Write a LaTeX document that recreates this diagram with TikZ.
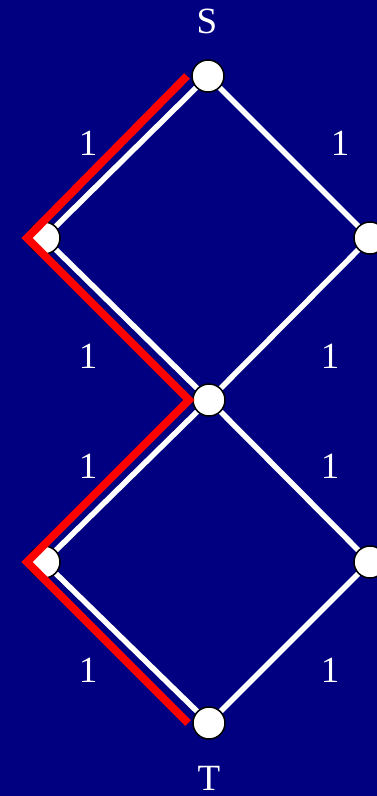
\documentclass[tikz,border=0pt]{standalone}
\usepackage{fontspec}
\setmainfont{Liberation Serif}
\usetikzlibrary{backgrounds}
\definecolor{navy}{RGB}{0,0,128}

\begin{document}
\begin{tikzpicture}[x=1pt,y=-1pt,
    vertex/.style={circle,draw=black,fill=white,line width=1.5pt,minimum size=32pt,inner sep=0pt},
    lbl/.style={text=white,font=\fontsize{37}{37}\selectfont},
    link/.style={white,line width=5.5pt},
    route/.style={red,line width=8pt,line join=miter}]
    \useasboundingbox (0,0) rectangle (377,796);
    \node[vertex] (s) at (208,76) {};
    \node[vertex] (l_1) at (44,238) {};
    \node[vertex] (r_1) at (370,238) {};
    \node[vertex] (m) at (209,400) {};
    \node[vertex] (l_2) at (44,562) {};
    \node[vertex] (r_2) at (370,562) {};
    \node[vertex] (t) at (209,723) {};
    \node[lbl] (s_lbl) at (207,21) {S};
    \node[lbl,anchor=base] (t_lbl) at (209,790) {T};
    \node[lbl] at (88,143) {1};
    \node[lbl] at (340,143) {1};
    \node[lbl] at (88,356) {1};
    \node[lbl] at (330,356) {1};
    \node[lbl] at (88,466) {1};
    \node[lbl] at (330,466) {1};
    \node[lbl] at (88,670) {1};
    \node[lbl] at (330,670) {1};
    \begin{scope}[on background layer]
    \fill[navy] (0,0) rectangle (377,796);
    \path[link]
    (s) edge (l_1)
    (s) edge (r_1)
    (l_1) edge (m)
    (r_1) edge (m)
    (m) edge (l_2)
    (m) edge (r_2)
    (l_2) edge (t)
    (r_2) edge (t);
    \end{scope}
    % the chosen path
    \coordinate (p_0) at ([xshift=-21pt]s.center);
    \coordinate (p_1) at ([xshift=-17pt]l_1.center);
    \coordinate (p_2) at ([xshift=-20pt]m.center);
    \coordinate (p_3) at ([xshift=-17pt]l_2.center);
    \coordinate (p_4) at ([xshift=-21pt]t.center);
    \draw[route] (p_0) -- (p_1) -- (p_2) -- (p_3) -- (p_4);
\end{tikzpicture}
\end{document}
